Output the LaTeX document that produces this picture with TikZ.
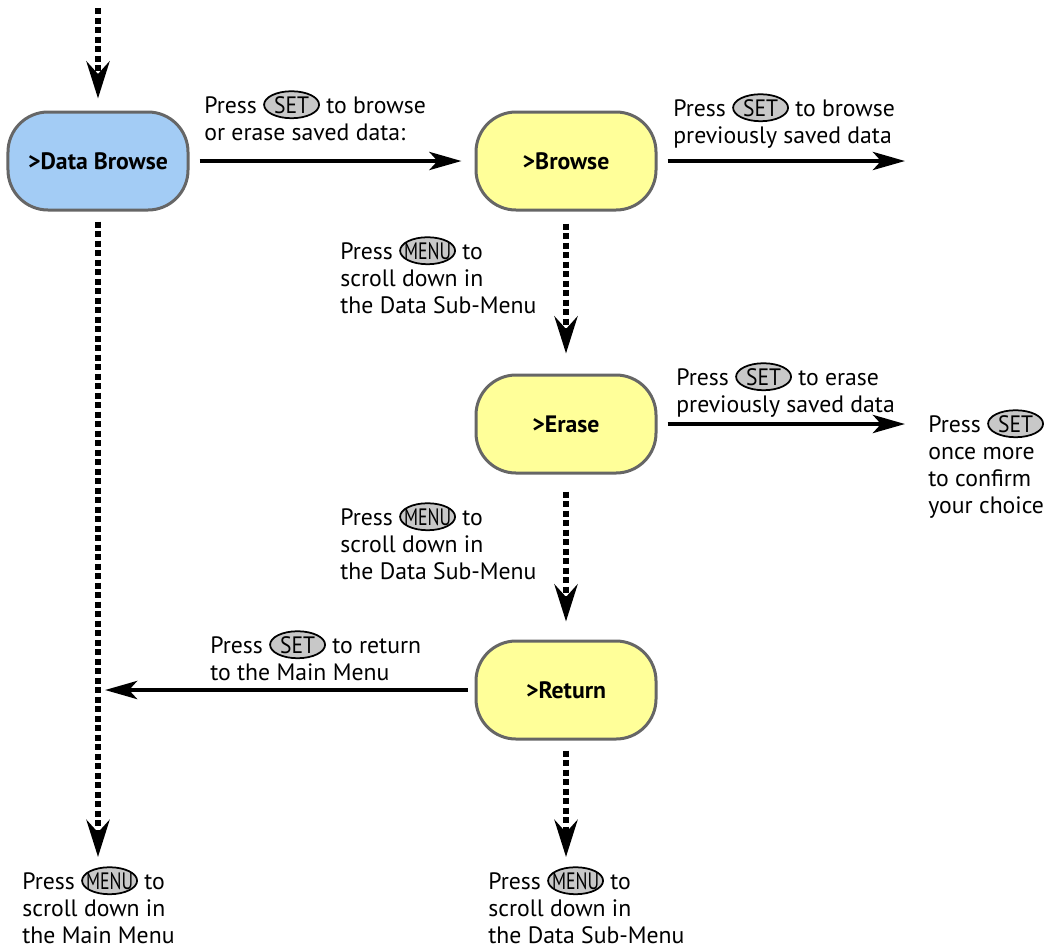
\documentclass[tikz,border=0pt]{standalone}
\usepackage{fontspec}
\setmainfont{PT Sans}
\usepackage{xcolor}
\definecolor{boxblue}{HTML}{A3CCF5}
\definecolor{boxyellow}{HTML}{FFFF99}
\definecolor{boxedge}{HTML}{666666}
\definecolor{keygray}{HTML}{C8C8C8}
\usetikzlibrary{positioning, arrows.meta, shapes.geometric}

\tikzset{keybtn/.style={ellipse, draw, line width=0.35mm, fill=keygray, inner sep=0pt,
 minimum width=11mm, minimum height=5.4mm}}
% key drawn at a fixed size, its text squeezed to fit
\newcommand{\keybtn}[2]{\tikz[baseline=(k.base)]\node[keybtn] (k)
 {\makebox[0pt][c]{\resizebox{#1}{\height}{#2}}};}

\begin{document}
\begin{tikzpicture}
[x=0.2mm, y=-0.2mm,
 font=\fontsize{13.5}{15.4}\selectfont,
 menubox/.style={draw=boxedge, line width=0.6mm, rounded corners=8mm,
 minimum width=36mm, minimum height=19.6mm, font=\fontsize{13.5}{15.4}\selectfont\bfseries},
 hint/.style={align=left, anchor=north west, inner sep=0pt},
 go/.style={-{Stealth[length=6.4mm, width=3.6mm, inset=1.6mm]}, line width=0.9mm},
 scroll/.style={-{Stealth[length=7.4mm, width=4.6mm, inset=2.5mm]}, line width=1.2mm,
 dash pattern=on 1.2mm off 0.7mm},
]
\useasboundingbox (0,0) rectangle (1053,949);

\node[menubox, fill=boxblue] (dbrowse) at (98,161) {>Data Browse};
\node[menubox, fill=boxyellow, right=57mm of dbrowse] (browse) {>Browse};
\node[menubox, fill=boxyellow, below=32.4mm of browse] (erase) {>Erase};
\node[menubox, fill=boxyellow, below=33mm of erase] (return) {>Return};

\coordinate (entry) at (98,8);
\coordinate (mainend) at (98,857);
\coordinate (browseout) at (905,161);
\coordinate (eraseout) at (erase.east -| browseout);
\coordinate (returnout) at (return.west -| dbrowse);
\coordinate (subend) at (return.south |- mainend);

% labels
\node[hint] (t1) at (204,90) {Press \keybtn{7mm}{SET} to browse\\or erase saved data:};
\node[hint] (t2) at (673,93) {Press \keybtn{7mm}{SET} to browse\\previously saved data};
\node[hint] (t3) at (340,236) {Press \keybtn{9.4mm}{MENU} to\\scroll down in\\the Data Sub-Menu};
\node[hint] (t4) at (676,362) {Press \keybtn{7mm}{SET} to erase\\previously saved data};
\node[hint] (t5) at (928,409) {Press \keybtn{7mm}{SET}\\once more\\to confirm\\your choice};
\node[hint] (t6) at (340,502) {Press \keybtn{9.4mm}{MENU} to\\scroll down in\\the Data Sub-Menu};
\node[hint] (t7) at (210,630) {Press \keybtn{7mm}{SET} to return\\to the Main Menu};
\node[hint] (t8) at (22,866) {Press \keybtn{9.4mm}{MENU} to\\scroll down in\\the Main Menu};
\node[hint] (t9) at (488,866) {Press \keybtn{9.4mm}{MENU} to\\scroll down in\\the Data Sub-Menu};

% connectors
\draw[scroll, shorten >=2.4mm] (entry) -- (dbrowse);
\draw[scroll, shorten <=2mm] (dbrowse) -- (mainend);
\draw[go, shorten <=2mm, shorten >=2.6mm] (dbrowse) -- (browse);
\draw[go, shorten <=2mm] (browse) -- (browseout);
\draw[scroll, shorten <=2.4mm, shorten >=4mm] (browse) -- (erase);
\draw[go, shorten <=2mm] (erase) -- (eraseout);
\draw[scroll, shorten <=3.4mm, shorten >=3.6mm] (erase) -- (return);
\draw[go, shorten <=1.4mm, shorten >=1.4mm] (return) -- (returnout);
\draw[scroll, shorten <=2mm] (return) -- (subend);
\end{tikzpicture}
\end{document}
